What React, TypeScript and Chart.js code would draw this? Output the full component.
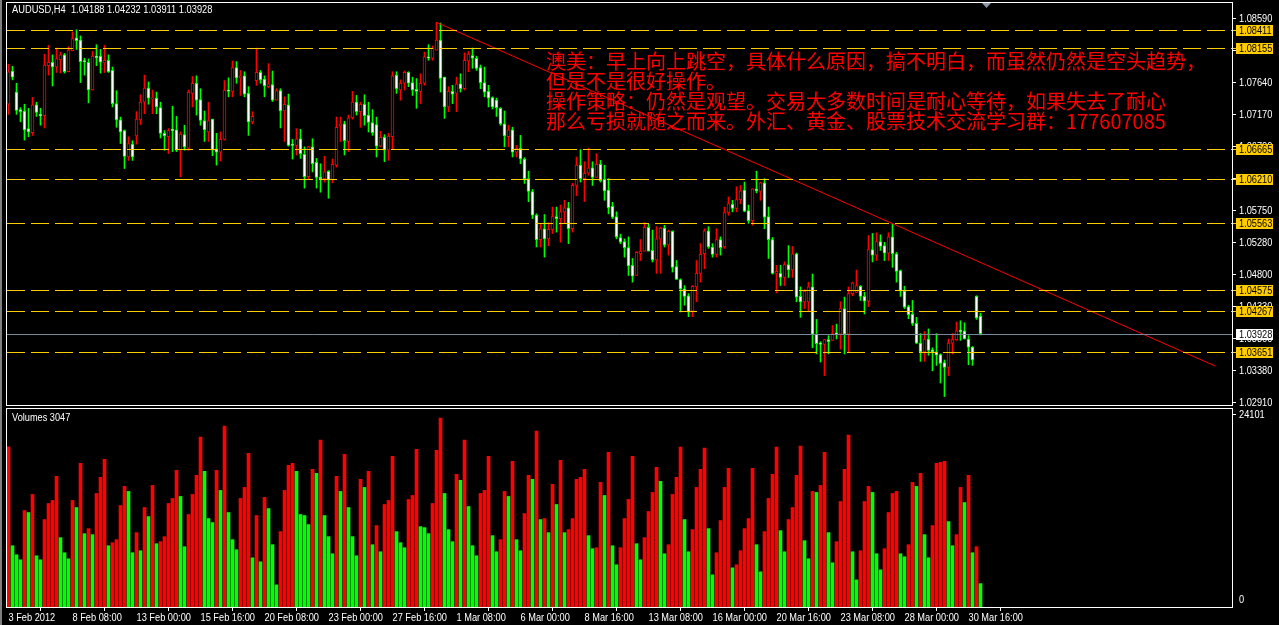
import React, { useEffect, useRef } from "react";
import { Chart, registerables } from "chart.js";

Chart.register(...registerables);

// ---------------- data ----------------
const titleText = "AUDUSD,H4  1.04188 1.04232 1.03911 1.03928";
const volumeTitle = "Volumes 3047";

const openP = [
  1.0732,1.0781,1.0750,1.0724,1.0722,1.0696,1.0690,1.0731,1.0717,1.0715,
  1.0789,1.0794,1.0787,1.0798,1.0805,1.0780,1.0811,1.0830,1.0827,1.0796,
  1.0794,1.0753,1.0803,1.0803,1.0793,1.0797,1.0782,1.0733,1.0709,1.0693,
  1.0654,1.0673,1.0685,1.0709,1.0735,1.0756,1.0740,1.0741,1.0727,1.0689,
  1.0684,1.0695,1.0694,1.0664,1.0687,1.0667,1.0748,1.0763,1.0739,1.0708,
  1.0691,1.0710,1.0666,1.0661,1.0680,1.0753,1.0751,1.0786,1.0771,1.0774,
  1.0748,1.0706,1.0767,1.0779,1.0769,1.0758,1.0761,1.0738,1.0752,1.0722,
  1.0731,1.0673,1.0671,1.0681,1.0658,1.0625,1.0669,1.0646,1.0624,1.0622,
  1.0633,1.0620,1.0642,1.0700,1.0703,1.0677,1.0712,1.0735,1.0721,1.0732,
  1.0716,1.0705,1.0702,1.0670,1.0683,1.0664,1.0684,1.0775,1.0753,1.0763,
  1.0779,1.0764,1.0754,1.0751,1.0763,1.0802,1.0800,1.0812,1.0827,1.0772,
  1.0728,1.0751,1.0748,1.0762,1.0755,1.0796,1.0804,1.0800,1.0786,1.0764,
  1.0751,1.0742,1.0738,1.0726,1.0703,1.0684,1.0694,1.0661,1.0667,1.0651,
  1.0622,1.0603,1.0568,1.0532,1.0548,1.0533,1.0547,1.0566,1.0563,1.0573,
  1.0579,1.0548,1.0612,1.0642,1.0622,1.0630,1.0638,1.0624,1.0643,1.0621,
  1.0605,1.0581,1.0566,1.0535,1.0529,1.0520,1.0494,1.0479,1.0511,1.0515,
  1.0550,1.0516,1.0502,1.0533,1.0549,1.0524,1.0544,1.0492,1.0473,1.0459,
  1.0449,1.0426,1.0462,1.0482,1.0511,1.0545,1.0521,1.0510,1.0532,1.0521,
  1.0572,1.0584,1.0578,1.0591,1.0605,1.0575,1.0560,1.0607,1.0603,1.0616,
  1.0566,1.0532,1.0482,1.0482,1.0476,1.0495,1.0487,1.0511,1.0448,1.0440,
  1.0440,1.0462,1.0392,1.0379,1.0377,1.0384,1.0383,1.0394,1.0392,1.0430,
  1.0392,1.0452,1.0454,1.0463,1.0448,1.0441,1.0517,1.0509,1.0529,1.0523,
  1.0512,1.0536,1.0511,1.0486,1.0456,1.0433,1.0422,1.0408,1.0379,1.0366,
  1.0385,1.0369,1.0366,1.0362,1.0350,1.0343,1.0379,1.0384,1.0398,1.0397,
  1.0385,1.0373,1.0448,1.04188,
];

const highP = [
  1.0791,1.0788,1.0763,1.0727,1.0732,1.0726,1.0742,1.0735,1.0726,1.0806,
  1.0819,1.0805,1.0815,1.0809,1.0807,1.0817,1.0839,1.0842,1.0833,1.0800,
  1.0799,1.0810,1.0820,1.0813,1.0819,1.0805,1.0787,1.0752,1.0713,1.0694,
  1.0684,1.0678,1.0721,1.0746,1.0775,1.0765,1.0753,1.0750,1.0735,1.0693,
  1.0696,1.0729,1.0714,1.0691,1.0701,1.0753,1.0773,1.0774,1.0755,1.0722,
  1.0735,1.0710,1.0689,1.0691,1.0767,1.0771,1.0796,1.0795,1.0782,1.0780,
  1.0758,1.0721,1.0815,1.0782,1.0774,1.0792,1.0781,1.0755,1.0755,1.0743,
  1.0747,1.0680,1.0696,1.0695,1.0669,1.0670,1.0681,1.0652,1.0644,1.0655,
  1.0634,1.0651,1.0713,1.0713,1.0707,1.0716,1.0751,1.0745,1.0735,1.0746,
  1.0735,1.0724,1.0713,1.0692,1.0687,1.0689,1.0780,1.0780,1.0768,1.0781,
  1.0780,1.0772,1.0770,1.0777,1.0809,1.0820,1.0818,1.0853,1.0852,1.0772,
  1.0758,1.0760,1.0772,1.0777,1.0808,1.0810,1.0815,1.0803,1.0790,1.0787,
  1.0760,1.0743,1.0741,1.0727,1.0722,1.0701,1.0698,1.0671,1.0686,1.0653,
  1.0633,1.0606,1.0570,1.0555,1.0569,1.0557,1.0580,1.0580,1.0583,1.0590,
  1.0587,1.0615,1.0654,1.0665,1.0647,1.0667,1.0647,1.0659,1.0649,1.0642,
  1.0622,1.0587,1.0573,1.0540,1.0533,1.0536,1.0504,1.0514,1.0532,1.0557,
  1.0555,1.0546,1.0551,1.0550,1.0553,1.0546,1.0545,1.0501,1.0474,1.0464,
  1.0452,1.0464,1.0501,1.0526,1.0548,1.0551,1.0526,1.0548,1.0536,1.0580,
  1.0595,1.0590,1.0610,1.0612,1.0617,1.0583,1.0607,1.0633,1.0617,1.0622,
  1.0580,1.0535,1.0494,1.0494,1.0499,1.0523,1.0522,1.0512,1.0462,1.0458,
  1.0469,1.0481,1.0414,1.0381,1.0384,1.0390,1.0405,1.0407,1.0440,1.0447,
  1.0462,1.0469,1.0487,1.0464,1.0454,1.0538,1.0541,1.0542,1.0539,1.0528,
  1.0542,1.0556,1.0513,1.0487,1.0463,1.0435,1.0442,1.0417,1.0393,1.0396,
  1.0400,1.0372,1.0393,1.0363,1.0354,1.0385,1.0393,1.0410,1.0412,1.0409,
  1.0390,1.0374,1.0449,1.04232,
];

const lowP = [
  1.0717,1.0768,1.0717,1.0706,1.0679,1.0684,1.0686,1.0714,1.0701,1.0697,
  1.0775,1.0759,1.0779,1.0778,1.0778,1.0780,1.0811,1.0813,1.0764,1.0775,
  1.0734,1.0753,1.0789,1.0778,1.0779,1.0779,1.0728,1.0698,1.0674,1.0637,
  1.0649,1.0649,1.0673,1.0702,1.0718,1.0732,1.0718,1.0718,1.0682,1.0664,
  1.0659,1.0662,1.0662,1.0625,1.0664,1.0664,1.0728,1.0716,1.0701,1.0677,
  1.0677,1.0656,1.0642,1.0648,1.0679,1.0743,1.0743,1.0763,1.0745,1.0743,
  1.0686,1.0703,1.0760,1.0763,1.0743,1.0756,1.0736,1.0738,1.0697,1.0677,
  1.0670,1.0651,1.0657,1.0652,1.0608,1.0622,1.0632,1.0608,1.0602,1.0617,
  1.0593,1.0616,1.0639,1.0677,1.0657,1.0662,1.0710,1.0716,1.0698,1.0701,
  1.0691,1.0686,1.0654,1.0669,1.0647,1.0649,1.0666,1.0748,1.0738,1.0753,
  1.0758,1.0745,1.0726,1.0733,1.0760,1.0797,1.0797,1.0812,1.0750,1.0711,
  1.0721,1.0733,1.0721,1.0750,1.0753,1.0780,1.0785,1.0782,1.0755,1.0743,
  1.0728,1.0725,1.0714,1.0701,1.0669,1.0669,1.0654,1.0654,1.0644,1.0615,
  1.0588,1.0563,1.0521,1.0521,1.0506,1.0523,1.0541,1.0543,1.0528,1.0556,
  1.0526,1.0543,1.0597,1.0617,1.0588,1.0627,1.0612,1.0624,1.0617,1.0590,
  1.0570,1.0563,1.0533,1.0526,1.0506,1.0479,1.0469,1.0479,1.0501,1.0515,
  1.0515,1.0499,1.0482,1.0482,1.0521,1.0509,1.0484,1.0473,1.0425,1.0435,
  1.0418,1.0418,1.0440,1.0469,1.0489,1.0519,1.0506,1.0506,1.0509,1.0519,
  1.0568,1.0573,1.0573,1.0585,1.0573,1.0556,1.0553,1.0601,1.0590,1.0548,
  1.0504,1.0481,1.0453,1.0464,1.0464,1.0476,1.0476,1.0440,1.0417,1.0430,
  1.0427,1.0372,1.0363,1.0351,1.0331,1.0363,1.0383,1.0385,1.0370,1.0363,
  1.0365,1.0449,1.0454,1.0442,1.0422,1.0433,1.0499,1.0501,1.0516,1.0501,
  1.0501,1.0491,1.0469,1.0448,1.0430,1.0415,1.0405,1.0378,1.0352,1.0352,
  1.0361,1.0338,1.0346,1.0320,1.0300,1.0331,1.0363,1.0383,1.0383,1.0385,
  1.0347,1.0346,1.0414,1.03911,
];

const closeP = [
  1.0780,1.0772,1.0723,1.0721,1.0694,1.0691,1.0731,1.0720,1.0715,1.0790,
  1.0794,1.0787,1.0799,1.0805,1.0780,1.0812,1.0829,1.0826,1.0795,1.0795,
  1.0753,1.0803,1.0801,1.0794,1.0797,1.0780,1.0733,1.0709,1.0691,1.0655,
  1.0674,1.0654,1.0710,1.0735,1.0756,1.0741,1.0741,1.0728,1.0689,1.0685,
  1.0693,1.0693,1.0664,1.0688,1.0669,1.0750,1.0763,1.0738,1.0708,1.0694,
  1.0708,1.0664,1.0661,1.0680,1.0753,1.0751,1.0786,1.0771,1.0774,1.0747,
  1.0706,1.0714,1.0779,1.0768,1.0759,1.0762,1.0738,1.0752,1.0722,1.0732,
  1.0671,1.0671,1.0681,1.0659,1.0625,1.0669,1.0644,1.0624,1.0622,1.0632,
  1.0620,1.0643,1.0698,1.0703,1.0678,1.0712,1.0735,1.0721,1.0732,1.0715,
  1.0705,1.0690,1.0670,1.0683,1.0664,1.0685,1.0774,1.0755,1.0763,1.0779,
  1.0763,1.0753,1.0751,1.0763,1.0802,1.0800,1.0815,1.0827,1.0770,1.0728,
  1.0751,1.0747,1.0762,1.0755,1.0797,1.0806,1.0800,1.0785,1.0764,1.0750,
  1.0741,1.0728,1.0727,1.0703,1.0685,1.0694,1.0661,1.0667,1.0651,1.0622,
  1.0603,1.0568,1.0532,1.0548,1.0533,1.0547,1.0566,1.0563,1.0573,1.0579,
  1.0548,1.0612,1.0642,1.0622,1.0630,1.0638,1.0624,1.0643,1.0619,1.0604,
  1.0579,1.0565,1.0536,1.0528,1.0520,1.0493,1.0478,1.0513,1.0515,1.0550,
  1.0515,1.0502,1.0533,1.0549,1.0524,1.0544,1.0491,1.0473,1.0459,1.0448,
  1.0425,1.0463,1.0482,1.0510,1.0545,1.0521,1.0510,1.0532,1.0520,1.0572,
  1.0585,1.0578,1.0591,1.0604,1.0574,1.0560,1.0607,1.0604,1.0616,1.0565,
  1.0532,1.0482,1.0485,1.0476,1.0495,1.0487,1.0511,1.0447,1.0440,1.0456,
  1.0462,1.0392,1.0378,1.0377,1.0384,1.0381,1.0393,1.0392,1.0430,1.0392,
  1.0452,1.0468,1.0464,1.0448,1.0441,1.0517,1.0509,1.0529,1.0522,1.0512,
  1.0536,1.0511,1.0485,1.0456,1.0432,1.0421,1.0408,1.0379,1.0366,1.0385,
  1.0368,1.0366,1.0361,1.0349,1.0343,1.0379,1.0384,1.0397,1.0396,1.0385,
  1.0373,1.0354,1.0416,1.03928,
];

const volumes = [
  20118,7781,6652,6024,12174,11923,14182,6526,6024,11044,
  13052,13429,16441,8785,6903,6150,13429,12550,18072,9287,
  9915,9162,14307,16315,18574,7781,8158,8534,12801,15186,
  14558,6903,9413,7154,12550,11421,15311,8032,8283,8911,
  13052,13680,17194,13931,7656,11672,14182,16566,21335,17068,
  11170,10668,17194,14684,22716,11923,8534,7279,13680,15060,
  19327,6275,11546,5773,13805,12425,7907,2887,9538,14684,
  17821,18072,17068,11672,11546,10417,17319,16817,20959,11546,
  8911,6777,16441,14558,19202,12550,8911,6526,16064,15060,
  17068,7907,10291,7028,12927,13429,18951,9538,8158,7530,
  13554,14056,19829,10166,10040,9287,13052,19704,23720,14307,
  9789,8283,16692,15939,20959,12676,7781,6526,14307,14684,
  18951,9036,7028,8534,14558,13931,18323,8534,7154,11797,
  16566,16064,22088,11044,11170,9413,15437,12927,18449,9413,
  9789,11170,16064,16315,17319,9036,7405,7530,15688,14056,
  19453,7781,5397,7530,11170,13554,18951,8032,6024,8785,
  12048,14433,17570,15813,6777,7907,14182,16315,20080,11044,
  7028,9789,15060,17319,19955,9915,4142,6903,10919,15060,
  17445,5020,5397,7154,9915,11170,17445,7907,4518,9538,
  13680,16692,20080,9664,7028,11044,12550,16566,20206,8409,
  6150,14558,14433,15311,19453,9413,5648,8283,13303,17319,
  21586,7028,3514,7154,13303,15186,14433,6777,4769,7405,
  11923,14307,14558,6777,6401,7907,15688,15186,16817,9162,
  6275,10291,18072,18198,18323,10793,7781,9162,15060,13178,
  16566,6903,7656,3047,
];

const tickIndex = [0, 16, 32, 48, 64, 80, 96, 112, 128, 144, 160, 176, 192, 208, 224, 240];
const tickLabels = [
  "3 Feb 2012", "8 Feb 08:00", "13 Feb 00:00", "15 Feb 16:00", "20 Feb 08:00", "23 Feb 00:00",
  "27 Feb 16:00", "1 Mar 08:00", "6 Mar 00:00", "8 Mar 16:00", "13 Mar 08:00", "16 Mar 00:00",
  "20 Mar 16:00", "23 Mar 08:00", "28 Mar 00:00", "30 Mar 16:00",
];
const priceTicks = [1.0859, 1.0812, 1.0764, 1.0717, 1.067, 1.0622, 1.0575, 1.0528, 1.048, 1.0433, 1.0386, 1.0338, 1.0291];
const levelPrices = [1.08411, 1.08155, 1.06665, 1.0621, 1.05563, 1.04575, 1.04267, 1.03651];
const lastPrice = 1.03928;
const trendLine = [
  { x: 107, y: 1.0853 },
  { x: 301.7, y: 1.0345 },
];
const volumeTicks = [24101, 0];
const noteLines = [
  "澳美：早上向上跳空，具体什么原因，搞不明白，而虽然仍然是空头趋势，",
  "但是不是很好操作。",
  "操作策略：仍然是观望。交易大多数时间是耐心等待，如果失去了耐心",
  "那么亏损就随之而来。外汇、黄金、股票技术交流学习群：177607085",
];

// ---------------- style ----------------
const W = 1279;
const MAIN_H = 408;
const VOL_H = 217;
const AREA_LEFT = 6;
const AXIS_W = 46;
const BAR_STEP = 4;
const X_MIN = -0.625;
const X_MAX = X_MIN + (W - AXIS_W - AREA_LEFT) / BAR_STEP;
const PRICE_MIN = 1.0286;
const PRICE_MAX = 1.08831;
const VOL_MAX = 24975;
const UP = "#FF0000";
const DOWN = "#00FF00";
const LEVEL = "#FFCC00";
const SANS = "'Liberation Sans', Arial, sans-serif";
const AXIS_FONT = `11px ${SANS}`;
const SQUEEZE = 0.84;

function squeezedText(ctx: CanvasRenderingContext2D, t: string, x: number, y: number, sx: number) {
  ctx.save();
  ctx.translate(x, y);
  ctx.scale(sx, 1);
  ctx.fillText(t, 0, 0);
  ctx.restore();
}

const idx = openP.map((_, i) => i);
const isUp = idx.map((i) => closeP[i] > openP[i]);

const mainDecor = {
  id: "mainDecor",
  afterDraw(chart: any) {
    const { ctx, chartArea: a, scales } = chart;
    const ys = scales.y;
    const xs = scales.x;
    ctx.save();
    // panel border
    ctx.strokeStyle = "#FFFFFF";
    ctx.lineWidth = 1;
    ctx.strokeRect(a.left + 0.5, a.top + 0.5, a.right - a.left - 1, a.bottom - a.top - 1);

    ctx.textBaseline = "middle";
    ctx.textAlign = "left";
    ctx.font = AXIS_FONT;
    // price axis labels
    ctx.fillStyle = "#FFFFFF";
    priceTicks.forEach((v) => {
      squeezedText(ctx, v.toFixed(5), a.right + 6, ys.getPixelForValue(v) + 0.5, SQUEEZE);
    });

    // horizontal levels
    levelPrices.forEach((v) => {
      const py = Math.round(ys.getPixelForValue(v)) + 0.5;
      ctx.strokeStyle = LEVEL;
      ctx.setLineDash([18, 6]);
      ctx.beginPath();
      ctx.moveTo(a.left + 1, py);
      ctx.lineTo(a.right - 1, py);
      ctx.stroke();
      ctx.setLineDash([]);
      ctx.beginPath();
      ctx.moveTo(a.right, py);
      ctx.lineTo(a.right + 3, py);
      ctx.stroke();
      ctx.fillStyle = LEVEL;
      ctx.fillRect(a.right + 3, py - 5.5, 37, 11);
      ctx.fillStyle = "#000000";
      squeezedText(ctx, v.toFixed(5), a.right + 6, py, SQUEEZE);
    });
    // current price line
    const cy = Math.round(ys.getPixelForValue(lastPrice)) + 0.5;
    ctx.strokeStyle = "#778899";
    ctx.beginPath();
    ctx.moveTo(a.left + 1, cy);
    ctx.lineTo(a.right - 1, cy);
    ctx.stroke();
    ctx.fillStyle = "#FFFFFF";
    ctx.fillRect(a.right + 3, cy - 5.5, 37, 11);
    ctx.fillStyle = "#000000";
    squeezedText(ctx, lastPrice.toFixed(5), a.right + 6, cy, SQUEEZE);

    // title
    ctx.fillStyle = "#FFFFFF";
    ctx.font = `10px ${SANS}`;
    squeezedText(ctx, titleText, 12, 10.5, 0.93);

    // notes
    ctx.fillStyle = "#FF0000";
    ctx.font = "20px 'Noto Sans CJK SC', sans-serif";
    noteLines.forEach((t, k) => ctx.fillText(t, 546, 61 + k * 20));

    // chart shift marker
    const sx = xs.getPixelForValue(openP.length + 0.5);
    ctx.fillStyle = "#8A96A3";
    ctx.beginPath();
    ctx.moveTo(sx - 4.5, a.top + 1);
    ctx.lineTo(sx + 4.5, a.top + 1);
    ctx.lineTo(sx, a.top + 6);
    ctx.closePath();
    ctx.fill();
    ctx.restore();
  },
};

const volDecor = {
  id: "volDecor",
  afterDraw(chart: any) {
    const { ctx, chartArea: a, scales } = chart;
    const xs = scales.x;
    ctx.save();
    ctx.strokeStyle = "#FFFFFF";
    ctx.lineWidth = 1;
    ctx.strokeRect(a.left + 0.5, a.top + 0.5, a.right - a.left - 1, a.bottom - a.top - 1);
    ctx.fillStyle = "#FFFFFF";
    ctx.textBaseline = "middle";
    ctx.textAlign = "left";
    ctx.font = `10px ${SANS}`;
    squeezedText(ctx, volumeTitle, 12, a.top + 10, 0.92);
    ctx.font = AXIS_FONT;
    // volume axis labels (top one at its value, zero label kept inside the pane)
    squeezedText(ctx, String(volumeTicks[0]), a.right + 6, a.top + 7, SQUEEZE);
    squeezedText(ctx, String(volumeTicks[1]), a.right + 6, a.bottom - 8, SQUEEZE);
    // time axis labels
    tickIndex.forEach((v, k) => {
      squeezedText(ctx, tickLabels[k], xs.getPixelForValue(v), a.bottom + 10, SQUEEZE);
    });
    ctx.restore();
  },
};

export default function App() {
  const mainRef = useRef<HTMLCanvasElement>(null);
  const volRef = useRef<HTMLCanvasElement>(null);

  useEffect(() => {
    const main = new Chart(mainRef.current as HTMLCanvasElement, {
      type: "bar",
      data: {
        datasets: [
          {
            type: "line",
            label: "trend",
            data: trendLine,
            borderColor: UP,
            borderWidth: 1,
            pointRadius: 0,
            order: 0,
          } as any,
          {
            label: "body",
            data: idx.map((i) => ({ x: i, y: [Math.min(openP[i], closeP[i]), Math.max(openP[i], closeP[i])] })),
            backgroundColor: idx.map((i) => (isUp[i] ? "#000000" : "#FFFFFF")),
            borderColor: idx.map((i) => (isUp[i] ? UP : DOWN)),
            borderWidth: 1,
            borderSkipped: false,
            barThickness: 3,
            minBarLength: 1,
            grouped: false,
            order: 1,
          } as any,
          {
            label: "wick",
            data: idx.map((i) => ({ x: i, y: [lowP[i], highP[i]] })),
            backgroundColor: idx.map((i) => (isUp[i] ? UP : DOWN)),
            borderWidth: 0,
            barThickness: 1,
            grouped: false,
            order: 2,
          } as any,
        ],
      },
      options: {
        responsive: false,
        animation: false,
        events: [],
        layout: { padding: { left: AREA_LEFT, top: 2, right: 0, bottom: 2 } },
        plugins: { legend: { display: false }, tooltip: { enabled: false } },
        scales: {
          x: { type: "linear", min: X_MIN, max: X_MAX, offset: false, display: false },
          y: {
            type: "linear",
            position: "right",
            min: PRICE_MIN,
            max: PRICE_MAX,
            afterBuildTicks: (s: any) => {
              s.ticks = priceTicks.map((v) => ({ value: v }));
            },
            afterFit: (s: any) => {
              s.width = AXIS_W;
              s.paddingTop = 0;
              s.paddingBottom = 0;
            },
            ticks: { display: false },
            grid: { drawOnChartArea: false, color: "#FFFFFF", tickLength: 3 },
            border: { display: false },
          },
        },
      } as any,
      plugins: [mainDecor],
    });

    const vol = new Chart(volRef.current as HTMLCanvasElement, {
      type: "bar",
      data: {
        datasets: [
          {
            label: "volume",
            data: idx.map((i) => ({ x: i, y: volumes[i] })),
            backgroundColor: idx.map((i) => (i === 0 || volumes[i] > volumes[i - 1] ? UP : DOWN)),
            borderWidth: 0,
            barThickness: 3,
            grouped: false,
          } as any,
        ],
      },
      options: {
        responsive: false,
        animation: false,
        events: [],
        layout: { padding: { left: AREA_LEFT, top: 0, right: 0, bottom: 0 } },
        plugins: { legend: { display: false }, tooltip: { enabled: false } },
        scales: {
          x: {
            type: "linear",
            min: X_MIN,
            max: X_MAX,
            offset: false,
            afterBuildTicks: (s: any) => {
              s.ticks = tickIndex.map((v) => ({ value: v }));
            },
            afterFit: (s: any) => {
              s.height = 17;
              s.paddingLeft = 0;
              s.paddingRight = 0;
            },
            ticks: { display: false },
            grid: { drawOnChartArea: false, color: "#FFFFFF", tickLength: 3 },
            border: { display: false },
          },
          y: {
            type: "linear",
            position: "right",
            min: 0,
            max: VOL_MAX,
            afterBuildTicks: (s: any) => {
              s.ticks = [{ value: volumeTicks[0] }];
            },
            afterFit: (s: any) => {
              s.width = AXIS_W;
              s.paddingTop = 0;
              s.paddingBottom = 0;
            },
            ticks: { display: false },
            grid: { drawOnChartArea: false, color: "#FFFFFF", tickLength: 3 },
            border: { display: false },
          },
        },
      } as any,
      plugins: [volDecor],
    });

    return () => {
      main.destroy();
      vol.destroy();
    };
  }, []);

  return (
    <div style={{ position: "fixed", left: 0, top: 0, width: W, height: MAIN_H + VOL_H, background: "#000", overflow: "hidden" }}>
      <div style={{ position: "absolute", left: 0, top: 0, width: 2, height: MAIN_H + VOL_H, background: "#808080" }} />
      <canvas ref={mainRef} width={W} height={MAIN_H} style={{ position: "absolute", left: 0, top: 0, width: W, height: MAIN_H }} />
      <canvas ref={volRef} width={W} height={VOL_H} style={{ position: "absolute", left: 0, top: MAIN_H, width: W, height: VOL_H }} />
    </div>
  );
}
